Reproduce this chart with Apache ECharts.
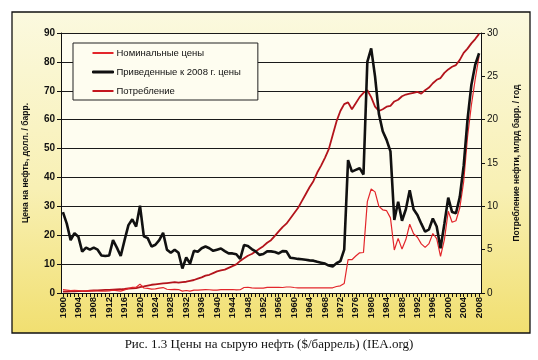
<!DOCTYPE html>
<html><head><meta charset="utf-8">
<script src="https://cdn.jsdelivr.net/npm/echarts@6/dist/echarts.min.js"></script>
<style>html,body{margin:0;padding:0;background:#fff}#c{width:538px;height:360px}</style>
</head><body><div id="c"></div>
<script>
// Years 1900..2008
const years = [];
for (let y = 1900; y <= 2008; y++) years.push(String(y));

// Nominal prices, $/bbl (left axis)
const nominal = [
1.2,1.0,0.8,0.94,0.86,0.62,0.73,0.72,0.72,0.7,
0.61,0.61,0.74,0.95,0.81,0.64,1.1,1.56,1.98,2.01,
3.07,1.73,1.61,1.34,1.43,1.68,1.88,1.3,1.17,1.27,
1.19,0.65,0.87,0.67,1.0,0.97,1.09,1.18,1.13,1.02,
1.02,1.14,1.19,1.2,1.21,1.05,1.12,1.9,1.99,1.78,
1.71,1.71,1.71,1.93,1.93,1.93,1.93,1.9,2.08,2.08,
1.9,1.8,1.8,1.8,1.8,1.8,1.8,1.8,1.8,1.8,
1.8,2.24,2.48,3.29,11.58,11.53,12.8,13.92,14.02,31.61,
36.0,35.0,30.0,28.8,28.5,26.0,14.9,18.9,15.2,18.5,
23.8,20.5,19.3,17.0,15.8,17.1,20.6,18.8,12.7,18.5,
28.3,24.5,25.0,29.5,38.5,54.0,65.0,74.0,82.0
];

// Real prices in 2008 dollars, $/bbl (left axis)
const real = [
28.0,24.0,18.3,20.7,19.5,14.3,15.7,15.0,15.7,15.0,
13.0,12.8,13.0,18.3,15.7,12.8,18.3,23.5,25.5,23.0,
30.2,19.6,19.0,16.1,16.7,18.3,20.8,15.0,13.9,15.0,
13.9,8.5,12.3,10.2,14.6,14.3,15.5,16.1,15.5,14.6,
15.0,15.4,14.5,13.7,13.7,13.4,11.8,16.6,16.3,15.2,
14.4,13.2,13.5,14.4,14.4,14.2,13.7,14.5,14.4,12.2,
12.0,11.8,11.7,11.5,11.3,11.2,10.8,10.5,10.2,9.5,
9.2,10.3,11.0,15.0,46.0,42.0,42.6,43.2,41.0,80.0,
84.7,75.0,62.0,56.0,53.0,49.0,25.3,31.6,25.0,29.0,
35.6,29.0,27.0,24.0,21.2,22.0,25.8,23.0,15.5,24.0,
33.0,28.0,27.6,33.3,44.0,60.0,72.0,79.0,83.0
];

// Consumption, billion bbl / year (right axis)
const consumption = [
0.15,0.17,0.18,0.19,0.21,0.22,0.22,0.26,0.29,0.3,
0.33,0.35,0.36,0.39,0.41,0.43,0.46,0.52,0.53,0.57,
0.69,0.76,0.86,0.95,1.0,1.05,1.1,1.15,1.2,1.25,
1.2,1.25,1.3,1.4,1.5,1.65,1.8,2.0,2.1,2.3,
2.5,2.6,2.7,2.9,3.1,3.3,3.7,4.0,4.3,4.5,
4.8,5.1,5.4,5.8,6.1,6.6,7.1,7.6,8.0,8.6,
9.2,9.8,10.6,11.4,12.2,12.9,13.9,14.7,15.6,16.6,
18.2,19.8,21.0,21.8,22.0,21.2,21.9,22.6,23.1,23.4,
22.6,21.5,21.0,21.2,21.5,21.6,22.1,22.3,22.7,22.9,
23.0,23.1,23.2,23.0,23.4,23.7,24.2,24.6,24.8,25.4,
25.8,26.1,26.3,26.9,27.7,28.2,28.8,29.3,29.9
];

const seriesNames = ['Номинальные цены', 'Приведенные к 2008 г. цены', 'Потребление'];
const leftAxisName = 'Цена на нефть, долл. / барр.';
const rightAxisName = 'Потребление нефти, млрд барр. / год';
const caption = 'Рис. 1.3 Цены на сырую нефть ($/баррель) (IEA.org)';

const chart = echarts.init(document.getElementById('c'), null, {renderer: 'canvas'});
chart.setOption({
  animation: false,
  backgroundColor: '#ffffff',
  graphic: [
    {type: 'rect', z: -10, shape: {x: 12, y: 12, width: 518, height: 321},
     style: {fill: new echarts.graphic.LinearGradient(0, 0, 0, 1, [
       {offset: 0, color: '#fbf9df'}, {offset: 0.55, color: '#f8f0b4'}, {offset: 1, color: '#f1df70'}]),
       stroke: '#111', lineWidth: 1.3}},
    {type: 'rect', z: -9, shape: {x: 61, y: 33, width: 420, height: 260},
     style: {fill: '#fefdf0'}}
  ],
  title: {
    text: caption, left: 'center', top: 333,
    textStyle: {fontFamily: 'Liberation Serif', fontSize: 13, fontWeight: 'normal', color: '#111'}
  },
  legend: {
    data: [
      {name: seriesNames[0], icon: 'rect', itemStyle: {color: '#e3262b', borderWidth: 0}},
      {name: seriesNames[1], icon: 'rect', itemStyle: {color: '#111', borderColor: '#111', borderWidth: 1}},
      {name: seriesNames[2], icon: 'rect', itemStyle: {color: '#c4161e', borderWidth: 0}}
    ],
    orient: 'vertical', left: 73, top: 43,
    padding: [4, 17, 3, 19],
    itemWidth: 21, itemHeight: 2, itemGap: 7,
    backgroundColor: '#fefdf0', borderColor: '#222', borderWidth: 1,
    textStyle: {fontFamily: 'Liberation Sans', fontSize: 9.5, lineHeight: 12, color: '#111', padding: [0, 0, 0, -2]}
  },
  grid: {left: 61, right: 57, top: 33, bottom: 67},
  xAxis: {
    type: 'category', data: years, boundaryGap: true,
    axisLine: {lineStyle: {color: '#111', width: 1}},
    axisTick: {show: true, interval: 0, alignWithLabel: true, length: 4, lineStyle: {color: '#111'}},
    axisLabel: {interval: 3, rotate: 90, fontFamily: 'Liberation Sans', fontWeight: 'bold', fontSize: 9.5, color: '#111', margin: 4}
  },
  yAxis: [
    {type: 'value', min: 0, max: 90, interval: 10,
     name: leftAxisName, nameLocation: 'middle', nameGap: 31, nameRotate: 90,
     nameTextStyle: {fontFamily: 'Liberation Sans', fontWeight: 'bold', fontSize: 8.5, color: '#111'},
     axisLine: {show: true, lineStyle: {color: '#111'}},
     axisTick: {show: true, length: 4, lineStyle: {color: '#111'}},
     axisLabel: {fontFamily: 'Liberation Sans', fontWeight: 'bold', fontSize: 10, color: '#111', margin: 6},
     splitLine: {show: true, lineStyle: {color: '#1a1a1a', width: 1}}},
    {type: 'value', min: 0, max: 30, interval: 5, position: 'right',
     name: rightAxisName, nameLocation: 'middle', nameGap: 31, nameRotate: 90,
     nameTextStyle: {fontFamily: 'Liberation Sans', fontWeight: 'bold', fontSize: 8.5, color: '#111'},
     axisLine: {show: true, lineStyle: {color: '#111'}},
     axisTick: {show: true, length: 4, lineStyle: {color: '#111'}},
     axisLabel: {fontFamily: 'Liberation Sans', fontSize: 10, color: '#111', margin: 6},
     splitLine: {show: false}}
  ],
  series: [
    {name: seriesNames[2], type: 'line', yAxisIndex: 1, data: consumption, symbol: 'none',
     lineStyle: {color: '#b3141c', width: 1.8}, itemStyle: {color: '#b3141c'}, z: 2},
    {name: seriesNames[0], type: 'line', yAxisIndex: 0, data: nominal, symbol: 'none',
     lineStyle: {color: '#e3262b', width: 1.2}, itemStyle: {color: '#e3262b'}, z: 3},
    {name: seriesNames[1], type: 'line', yAxisIndex: 0, data: real, symbol: 'none',
     lineStyle: {color: '#111111', width: 2.6}, itemStyle: {color: '#111111'}, z: 4}
  ]
});
</script></body></html>
